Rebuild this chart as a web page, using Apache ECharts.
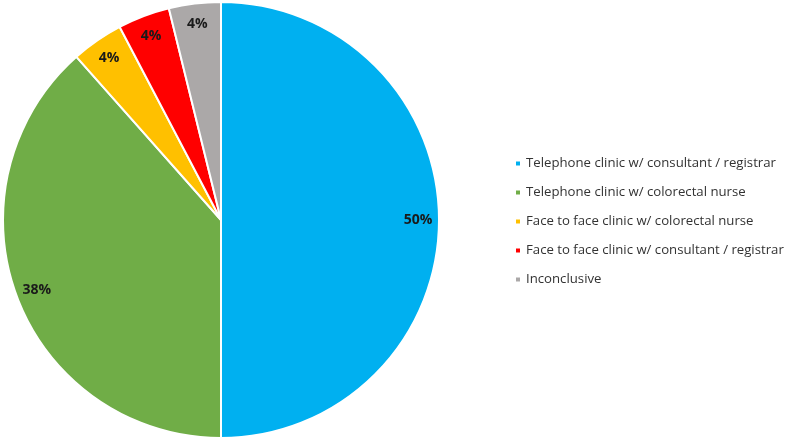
<!DOCTYPE html>
<html>
<head>
<meta charset="utf-8">
<script src="https://cdn.jsdelivr.net/npm/echarts@6/dist/echarts.min.js"></script>
<style>html,body{margin:0;padding:0;background:#fff}#c{width:790px;height:440px}</style>
</head>
<body>
<div id="c"></div>
<script>
var categories = [
  "Telephone clinic w/ consultant / registrar",
  "Telephone clinic w/ colorectal nurse",
  "Face to face clinic w/ colorectal nurse",
  "Face to face clinic w/ consultant / registrar",
  "Inconclusive"
];
var counts = [13, 10, 1, 1, 1];
var colors = ["#00B0F0", "#70AD47", "#FFC000", "#FF0000", "#ABA8A8"];

var chart = echarts.init(document.getElementById('c'), null, {renderer: 'canvas'});
var total = counts.reduce(function(a, b){ return a + b; }, 0);
function pct(v){ return Math.round(v / total * 100) + '%'; }

var pieData = categories.map(function(n, i){
  return {name: n, value: counts[i], itemStyle: {color: colors[i]}};
});
var ringData = categories.map(function(n, i){
  return {name: n, value: counts[i]};
});

chart.setOption({
  animation: false,
  legend: {
    orient: 'vertical',
    left: 509,
    top: 152,
    itemWidth: 6,
    itemHeight: 6,
    itemGap: 16,
    icon: 'rect',
    data: categories,
    textStyle: {fontFamily: 'Open Sans', fontSize: 13.2, color: '#333333', lineHeight: 13},
    selectedMode: false
  },
  series: [
    {
      type: 'pie',
      center: [221, 220],
      radius: [0, 218],
      startAngle: 90,
      clockwise: true,
      silent: true,
      itemStyle: {borderColor: '#fff', borderWidth: 2},
      label: {show: false},
      labelLine: {show: false},
      data: pieData
    },
    {
      type: 'pie',
      center: [221, 220],
      radius: [170, 218],
      startAngle: 90,
      clockwise: true,
      silent: true,
      itemStyle: {color: 'rgba(0,0,0,0)', borderWidth: 0},
      label: {
        show: true,
        position: 'inside',
        formatter: function(p){ return pct(p.value); },
        fontFamily: 'Open Sans',
        fontWeight: 'bold',
        fontSize: 14,
        color: '#1a1a1a'
      },
      labelLine: {show: false},
      data: ringData
    }
  ]
});
</script>
</body>
</html>
